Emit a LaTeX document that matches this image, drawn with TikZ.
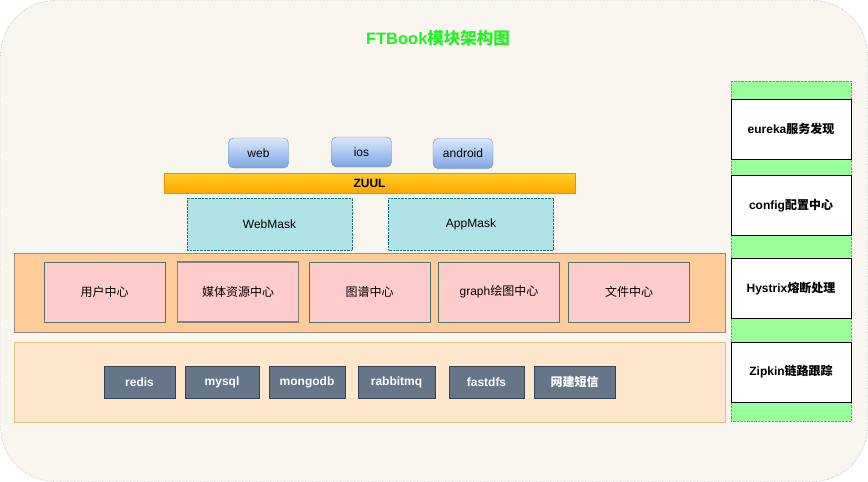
\documentclass[tikz,border=0pt]{standalone}
\usepackage{fontspec}
\setmainfont{Liberation Sans}
\newfontfamily\cjk{Noto Sans CJK SC}
\usetikzlibrary{shadings}
\newcommand\zh[1]{{\cjk #1}}
\definecolor{bgc}{HTML}{F8F6EE}
\definecolor{titlegreen}{HTML}{22F022}
\definecolor{greenstrip}{HTML}{99FF99}
\definecolor{pinkfill}{HTML}{FFCCCC}
\definecolor{pinkline}{HTML}{4F7468}
\definecolor{orangelayer}{HTML}{FFCC99}
\definecolor{orangeline}{HTML}{9E8A78}
\definecolor{lightlayer}{HTML}{FFE6CC}
\definecolor{lightline}{HTML}{E0C27A}
\definecolor{darkfill}{HTML}{647687}
\definecolor{darkline}{HTML}{314354}
\definecolor{maskfill}{HTML}{B0E3E6}
\definecolor{maskline}{HTML}{0E8088}
\definecolor{bluetop}{HTML}{DAE8FC}
\definecolor{bluebot}{HTML}{7EA6E0}
\definecolor{blueline}{HTML}{6C8EBF}
\definecolor{zuultop}{HTML}{FFCD28}
\definecolor{zuulbot}{HTML}{FFA500}
\definecolor{zuulline}{HTML}{D79B00}
\begin{document}
\begin{tikzpicture}[x=1pt,y=-1pt,
  every node/.style={font=\fontsize{12}{14}\selectfont, inner sep=0pt},
  pinkbox/.style={draw=pinkline, fill=pinkfill, line width=0.8pt, minimum width=121, minimum height=60},
  darkbox/.style={draw=darkline, fill=darkfill, line width=0.8pt, text=white, font=\fontsize{12}{14}\selectfont\bfseries, minimum height=32},
  sidebox/.style={draw=black, fill=white, line width=0.8pt, font=\fontsize{12}{14}\selectfont\bfseries, minimum width=120, minimum height=60},
  maskbox/.style={draw=maskline, densely dotted, fill=maskfill, minimum width=165, minimum height=52},
  clientbtn/.style={draw=blueline, rounded corners=5pt, top color=bluetop, bottom color=bluebot, minimum width=60, minimum height=30},
  layer/.style={line width=0.8pt}
]
\useasboundingbox (0,0) rectangle (868,482);
% outer frame
\draw[draw=gray!80, densely dotted, fill=bgc, rounded corners=55pt] (0.5,0.5) rectangle (867.5,481.5);
% title
\node[text=titlegreen, font=\fontsize{16.5}{19}\selectfont\bfseries] (title) at (438,38) {FTBook\zh{模块架构图}};
% right column
\draw[draw=green!60!gray, densely dotted, fill=greenstrip] (731,81) rectangle (851,421);
\node[sidebox] (eureka) at (791,129) {eureka\zh{服务发现}};
\node[sidebox] (config) at (791,205.5) {config\zh{配置中心}};
\node[sidebox] (hystrix) at (791,288.5) {Hystrix\zh{熔断处理}};
\node[sidebox] (zipkin) at (791,372) {Zipkin\zh{链路跟踪}};
% clients
\node[clientbtn] (web) at (258.5,153) {web};
\node[clientbtn] (ios) at (361.5,152) {ios};
\node[clientbtn] (android) at (463,153.5) {android};
% zuul
\node[draw=zuulline, top color=zuultop, bottom color=zuulbot, minimum width=411, minimum height=20, font=\fontsize{12}{14}\selectfont\bfseries] (zuul) at (369.5,183) {ZUUL};
% masks
\node[maskbox] (webmask) at (269.5,224) {WebMask};
\node[maskbox] (appmask) at (471,224) {AppMask};
% service layer
\draw[layer, draw=orangeline, fill=orangelayer] (14,253) rectangle (725,332);
\node[pinkbox] (user) at (104.5,292) {\zh{用户中心}};
\node[pinkbox, draw=gray, line width=1.3pt] (media) at (238,292) {\zh{媒体资源中心}};
\node[pinkbox] (tupu) at (369.5,292) {\zh{图谱中心}};
\node[pinkbox] (graph) at (499,292) {graph\zh{绘图中心}};
\node[pinkbox] (file) at (629,292) {\zh{文件中心}};
% infra layer
\draw[layer, draw=lightline, fill=lightlayer] (14,342) rectangle (725,422);
\node[darkbox, minimum width=71] (redis) at (139.5,382) {redis};
\node[darkbox, minimum width=74] (mysql) at (222,382) {mysql};
\node[darkbox, minimum width=76] (mongodb) at (307,382) {mongodb};
\node[darkbox, minimum width=77] (rabbitmq) at (396.5,382) {rabbitmq};
\node[darkbox, minimum width=75] (fastdfs) at (486.5,382) {fastdfs};
\node[darkbox, minimum width=81] (sms) at (574.5,382) {\zh{网建短信}};
\end{tikzpicture}
\end{document}
